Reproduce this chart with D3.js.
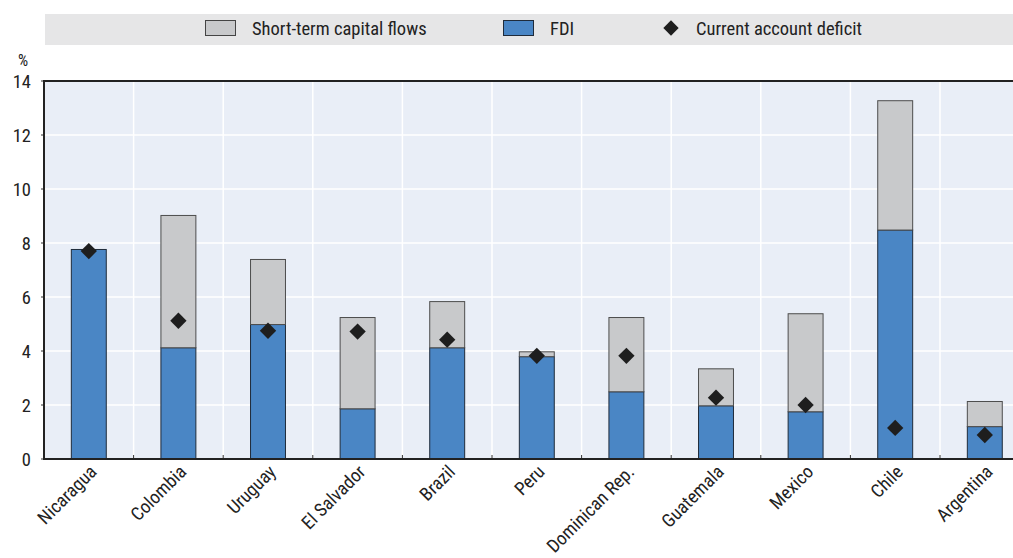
<!DOCTYPE html>
<html>
<head>
<meta charset="utf-8">
<script src="https://cdn.jsdelivr.net/npm/d3@7"></script>
<style>
  body { margin: 0; background: #fff; }
  svg { display: block; font-family: "Liberation Sans Narrow", "Arial Narrow", "Roboto Condensed", sans-serif; }
</style>
</head>
<body>
<div id="chart"></div>
<script>
// data
const countries = ["Nicaragua", "Colombia", "Uruguay", "El Salvador", "Brazil", "Peru",
  "Dominican Rep.", "Guatemala", "Mexico", "Chile", "Argentina"];
const fdi = [7.76, 4.12, 4.98, 1.86, 4.12, 3.79, 2.49, 1.97, 1.75, 8.48, 1.2];
const shortTerm = [0, 4.9, 2.41, 3.38, 1.71, 0.18, 2.75, 1.37, 3.63, 4.79, 0.93];
const deficit = [7.7, 5.12, 4.75, 4.72, 4.42, 3.82, 3.82, 2.27, 2.0, 1.15, 0.89];
const yTicks = [0, 2, 4, 6, 8, 10, 12, 14];

// svg container
const svgWidth = 1013, svgHeight = 558;
const plot = { left: 44, top: 81, bottom: 459, right: 44 + 11 * 89.6 };

const svg = d3.select("#chart").append("svg")
  .attr("width", svgWidth)
  .attr("height", svgHeight);

// scales
const xScale = d3.scaleBand()
  .domain(countries)
  .range([plot.left, plot.right])
  .paddingInner(0.61)
  .paddingOuter(0.305);

const yScale = d3.scaleLinear()
  .domain([0, 14])
  .range([plot.bottom, plot.top]);

// legend band
const legend = svg.append("g");
legend.append("rect")
  .attr("x", 45).attr("y", 14)
  .attr("width", svgWidth - 45).attr("height", 31)
  .attr("fill", "#e6e6e7");

legend.append("rect")
  .attr("x", 205.5).attr("y", 20.5).attr("width", 30).attr("height", 15)
  .attr("fill", "#c8c9cb").attr("stroke", "#444").attr("stroke-width", 1);
legend.append("text").attr("x", 252).attr("y", 34.5)
  .attr("font-size", 18.5).attr("fill", "#222").text("Short-term capital flows");

legend.append("rect")
  .attr("x", 503.5).attr("y", 20.5).attr("width", 30).attr("height", 15)
  .attr("fill", "#4a86c5").attr("stroke", "#1f2b3a").attr("stroke-width", 1);
legend.append("text").attr("x", 550).attr("y", 34.5)
  .attr("font-size", 18.5).attr("fill", "#222").text("FDI");

legend.append("path")
  .attr("d", d3.symbol(d3.symbolDiamond2, 150)())
  .attr("transform", "translate(671,28)")
  .attr("fill", "#1e1e1e");
legend.append("text").attr("x", 696).attr("y", 34.5)
  .attr("font-size", 18.5).attr("fill", "#222").text("Current account deficit");

// plot background
svg.append("rect")
  .attr("x", plot.left).attr("y", plot.top)
  .attr("width", plot.right - plot.left).attr("height", plot.bottom - plot.top)
  .attr("fill", "#e9eef7");

// horizontal gridlines
svg.append("g").selectAll("line")
  .data(yTicks.slice(1))
  .join("line")
  .attr("x1", plot.left).attr("x2", plot.right)
  .attr("y1", d => yScale(d)).attr("y2", d => yScale(d))
  .attr("stroke", "#fff").attr("stroke-width", 1.5);

// vertical gridlines between categories
const step = xScale.step();
const boundary = d => xScale(d) - step * xScale.paddingInner() / 2;
svg.append("g").selectAll("line")
  .data(countries.slice(1))
  .join("line")
  .attr("x1", boundary).attr("x2", boundary)
  .attr("y1", plot.top).attr("y2", plot.bottom)
  .attr("stroke", "#fff").attr("stroke-width", 1.5);

// small ticks on the x axis
svg.append("g").selectAll("line")
  .data(countries.slice(1))
  .join("line")
  .attr("x1", boundary).attr("x2", boundary)
  .attr("y1", plot.bottom).attr("y2", plot.bottom - 4)
  .attr("stroke", "#333").attr("stroke-width", 1);

// y ticks
const yAxis = svg.append("g");
yAxis.selectAll("line")
  .data(yTicks)
  .join("line")
  .attr("x1", plot.left - 3).attr("x2", plot.left)
  .attr("y1", d => yScale(d)).attr("y2", d => yScale(d))
  .attr("stroke", "#333");
yAxis.selectAll("text")
  .data(yTicks)
  .join("text")
  .attr("x", 31)
  .attr("y", d => yScale(d) + 6.5)
  .attr("text-anchor", "end")
  .attr("font-size", 18.5)
  .attr("fill", "#222")
  .text(d => d);
svg.append("text")
  .attr("x", 23).attr("y", 66)
  .attr("text-anchor", "middle")
  .attr("font-size", 16).attr("fill", "#222")
  .text("%");

// FDI bars
svg.append("g").selectAll("rect")
  .data(countries)
  .join("rect")
  .attr("x", d => xScale(d))
  .attr("y", (d, i) => yScale(fdi[i]))
  .attr("width", xScale.bandwidth())
  .attr("height", (d, i) => yScale(0) - yScale(fdi[i]))
  .attr("fill", "#4a86c5")
  .attr("stroke", "#1f2b3a")
  .attr("stroke-width", 1);

// short-term bars stacked on top
svg.append("g").selectAll("rect")
  .data(countries.filter((d, i) => shortTerm[i] > 0))
  .join("rect")
  .attr("x", d => xScale(d))
  .attr("y", d => { const i = countries.indexOf(d); return yScale(fdi[i] + shortTerm[i]); })
  .attr("width", xScale.bandwidth())
  .attr("height", d => { const i = countries.indexOf(d); return yScale(fdi[i]) - yScale(fdi[i] + shortTerm[i]); })
  .attr("fill", "#c8c9cb")
  .attr("stroke", "#4d4d4d")
  .attr("stroke-width", 1);

// frame
svg.append("path")
  .attr("d", `M${plot.right},${plot.top}H${plot.left}V${plot.bottom}H${plot.right}`)
  .attr("fill", "none")
  .attr("stroke", "#222")
  .attr("stroke-width", 2);

// diamonds
svg.append("g").selectAll("path")
  .data(countries)
  .join("path")
  .attr("d", d3.symbol(d3.symbolDiamond2, 170)())
  .attr("transform", (d, i) => `translate(${xScale(d) + xScale.bandwidth() / 2},${yScale(deficit[i])})`)
  .attr("fill", "#1e1e1e");

// x labels
svg.append("g").selectAll("text")
  .data(countries)
  .join("text")
  .attr("transform", d => `translate(${xScale(d) + xScale.bandwidth() / 2 + 9},${plot.bottom + 14}) rotate(-45)`)
  .attr("text-anchor", "end")
  .attr("font-size", 18.5)
  .attr("fill", "#222")
  .text(d => d);
</script>
</body>
</html>
